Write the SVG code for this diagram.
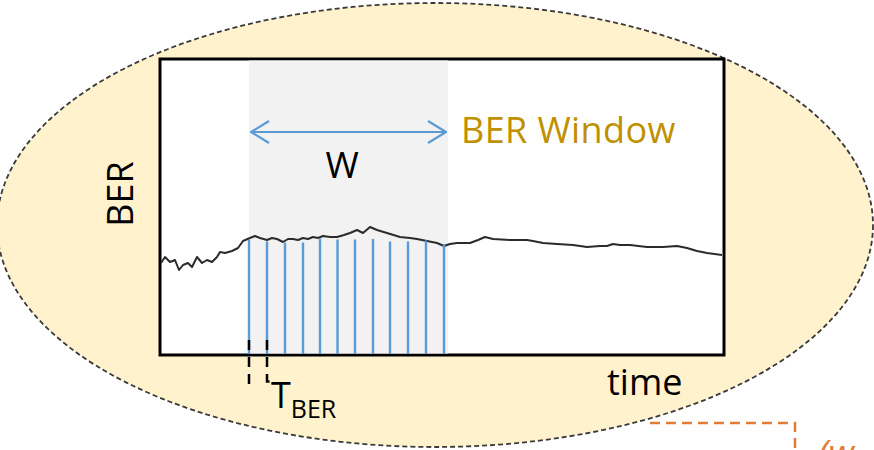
<svg xmlns="http://www.w3.org/2000/svg" width="874" height="450" viewBox="0 0 874 450">
<style>
.lbl{font-family:"Open Sans","Liberation Sans",sans-serif;fill:#000}
.tick{stroke:#5b9bd5;stroke-width:2.4}
.dash{stroke:#000;stroke-width:2.5;fill:none;stroke-dasharray:10 7}
</style>
<defs>
<marker id="chev" viewBox="0 0 20 24" refX="19" refY="12" markerWidth="20" markerHeight="24" markerUnits="userSpaceOnUse" orient="auto-start-reverse">
<path d="M1,1 L19,12 L1,23" fill="none" stroke="#5b9bd5" stroke-width="2.2"/>
</marker>
</defs>
<rect width="874" height="450" fill="#fff"/>
<g id="scope">
<ellipse cx="435" cy="225" rx="438" ry="222" fill="#fff2cc" stroke="#3a3a3a" stroke-width="1.8" stroke-dasharray="5 3"/>
</g>
<g id="plot">
<rect x="160" y="59" width="564" height="296" fill="#fff" stroke="#000" stroke-width="3"/>
<rect x="249" y="60.5" width="199" height="293" fill="#f2f2f2"/>
<polyline fill="none" stroke="#2b2b2b" stroke-width="2" stroke-linejoin="round" points="161,263 165,257 170,262 175,260 179,270 183,265 188,263 192,267 197,257 202,263 207,260 212,262 217,257 220,252 225,253 232,251 238,248 243,241 250,238 255,236 260,238 267,240 272,238 277,239 283,242 288,239 293,239 298,240 303,238 308,239 313,237 318,238 323,236 330,237 337,237 344,235 350,233 357,230 363,233 370,227 377,230 387,233 400,237 410,238 417,239 427,241 437,243 444,246 450,244 457,243 463,243 470,243 478,240 485,237 493,239 510,240 527,240 533,241 543,243 557,244 573,245 587,247 600,246 607,246 613,244 620,245 630,245 647,247 663,247 677,246 687,248 697,251 707,253 722,255"/>
</g>
<g id="samples">
<line class="tick" x1="249" y1="240" x2="249" y2="354"/>
<line class="tick" x1="267" y1="241.5" x2="267" y2="354"/>
<line class="tick" x1="285" y1="242.5" x2="285" y2="354"/>
<line class="tick" x1="303" y1="242.5" x2="303" y2="354"/>
<line class="tick" x1="320" y1="238.5" x2="320" y2="354"/>
<line class="tick" x1="337.5" y1="239.5" x2="337.5" y2="354"/>
<line class="tick" x1="355" y1="239.5" x2="355" y2="354"/>
<line class="tick" x1="373" y1="239" x2="373" y2="354"/>
<line class="tick" x1="390" y1="241.5" x2="390" y2="354"/>
<line class="tick" x1="408" y1="241.5" x2="408" y2="354"/>
<line class="tick" x1="426" y1="240.5" x2="426" y2="354"/>
<line class="tick" x1="444" y1="244" x2="444" y2="354"/>
</g>
<g id="connectors">
<line x1="251" y1="132" x2="446" y2="132" stroke="#5b9bd5" stroke-width="2.2" marker-start="url(#chev)" marker-end="url(#chev)"/>
<line class="dash" x1="249" y1="340" x2="249" y2="384"/>
<path class="dash" d="M267,340 V381.5 H273"/>
<path d="M650,423 H795 V450" fill="none" stroke="#e07b39" stroke-width="2.5" stroke-dasharray="10 6"/>
</g>
<g id="labels">
<text class="lbl" x="342" y="178" font-size="36" text-anchor="middle">W</text>
<text class="lbl" x="461" y="143" font-size="36" style="fill:#bf9000;letter-spacing:0.4px">BER Window</text>
<text class="lbl" transform="translate(133,194) rotate(-90)" font-size="36" text-anchor="middle">BER</text>
<text class="lbl" x="607" y="395" font-size="36">time</text>
<text class="lbl" x="271" y="408" font-size="36">T<tspan font-size="25" dy="10">BER</tspan></text>
<text x="818" y="466" font-family="Open Sans, Liberation Sans, sans-serif" font-size="36" font-style="italic" fill="#e07b39">(w</text>
</g>
</svg>
